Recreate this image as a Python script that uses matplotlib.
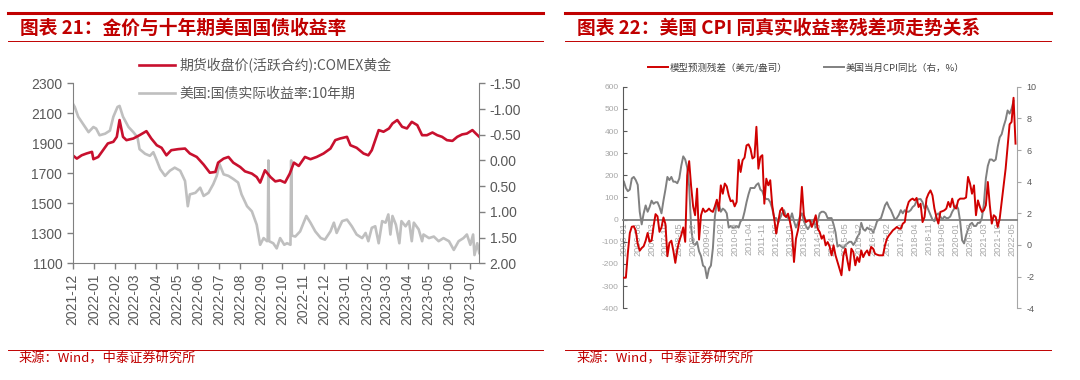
import numpy as np
import pandas as pd
import matplotlib
matplotlib.use('Agg')
import matplotlib.pyplot as plt
import matplotlib.dates as mdates
from matplotlib.ticker import FormatStrFormatter

plt.rcParams['font.family'] = ['Liberation Sans', 'Noto Sans CJK SC', 'DejaVu Sans']
plt.rcParams['axes.unicode_minus'] = False
CJK = ['Noto Sans CJK SC', 'DejaVu Sans']

# ---------- chart 21: gold vs 10y real yield ----------
gold_dates = ['2021-12-01', '2021-12-07', '2021-12-14', '2021-12-21', '2021-12-29', '2021-12-31',
              '2022-01-07', '2022-01-14', '2022-01-21', '2022-01-29', '2022-02-03', '2022-02-07',
              '2022-02-12', '2022-02-17', '2022-02-27', '2022-03-08', '2022-03-18', '2022-03-25',
              '2022-04-02', '2022-04-09', '2022-04-16', '2022-04-23', '2022-05-03', '2022-05-13',
              '2022-05-20', '2022-05-30', '2022-06-09', '2022-06-18', '2022-06-26', '2022-06-30',
              '2022-07-08', '2022-07-15', '2022-07-22', '2022-08-01', '2022-08-08', '2022-08-18',
              '2022-08-25', '2022-08-30', '2022-09-06', '2022-09-14', '2022-09-21', '2022-09-28',
              '2022-10-05', '2022-10-12', '2022-10-18', '2022-10-25', '2022-11-03', '2022-11-11',
              '2022-11-20', '2022-11-30', '2022-12-10', '2022-12-17', '2022-12-24', '2023-01-03',
              '2023-01-08', '2023-01-17', '2023-01-27', '2023-02-03', '2023-02-08', '2023-02-13',
              '2023-02-18', '2023-02-25', '2023-03-05', '2023-03-10', '2023-03-17', '2023-03-24',
              '2023-03-31', '2023-04-07', '2023-04-15', '2023-04-22', '2023-04-29', '2023-05-07',
              '2023-05-14', '2023-05-21', '2023-05-28', '2023-06-05', '2023-06-12', '2023-06-19',
              '2023-06-26', '2023-07-04', '2023-07-09', '2023-07-14']
gold_price = [1820, 1798, 1820, 1832, 1843, 1794, 1809, 1854, 1899, 1910, 1943, 2055,
              1943, 1921, 1932, 1954, 1981, 1932, 1887, 1870, 1820, 1854, 1861, 1865,
              1832, 1809, 1758, 1704, 1709, 1771, 1798, 1809, 1771, 1742, 1713, 1698,
              1675, 1638, 1720, 1675, 1646, 1653, 1638, 1698, 1771, 1749, 1809, 1794,
              1809, 1832, 1865, 1921, 1932, 1943, 1887, 1870, 1832, 1820, 1854, 1921,
              1988, 1977, 1999, 2032, 2055, 2010, 1999, 2043, 2021, 1954, 1954, 1972,
              1954, 1943, 1921, 1916, 1943, 1959, 1965, 1988, 1965, 1943]

ry_dates = ['2021-12-01', '2021-12-04', '2021-12-09', '2021-12-16', '2021-12-24', '2021-12-31',
            '2022-01-04', '2022-01-09', '2022-01-17', '2022-01-24', '2022-01-29', '2022-02-04',
            '2022-02-07', '2022-02-12', '2022-02-20', '2022-02-27', '2022-03-05', '2022-03-08',
            '2022-03-16', '2022-03-23', '2022-03-28', '2022-04-02', '2022-04-07', '2022-04-14',
            '2022-04-21', '2022-04-28', '2022-05-06', '2022-05-13', '2022-05-17', '2022-05-20',
            '2022-05-28', '2022-06-04', '2022-06-09', '2022-06-16', '2022-06-23', '2022-06-28',
            '2022-07-02', '2022-07-08', '2022-07-15', '2022-07-22', '2022-07-29', '2022-08-03',
            '2022-08-11', '2022-08-18', '2022-08-25', '2022-08-30', '2022-09-04', '2022-09-09',
            '2022-09-10', '2022-09-11', '2022-09-12', '2022-09-18', '2022-09-23', '2022-09-28',
            '2022-10-04', '2022-10-08', '2022-10-13', '2022-10-14', '2022-10-15', '2022-10-20',
            '2022-10-27', '2022-11-05', '2022-11-11', '2022-11-18', '2022-11-26', '2022-12-02',
            '2022-12-10', '2022-12-15', '2022-12-19', '2022-12-27', '2023-01-03', '2023-01-10',
            '2023-01-17', '2023-01-25', '2023-01-30', '2023-02-03', '2023-02-08', '2023-02-13',
            '2023-02-18', '2023-02-23', '2023-02-28', '2023-03-04', '2023-03-07', '2023-03-10',
            '2023-03-15', '2023-03-20', '2023-03-23', '2023-03-29', '2023-04-03', '2023-04-07',
            '2023-04-10', '2023-04-17', '2023-04-22', '2023-04-24', '2023-05-02', '2023-05-09',
            '2023-05-16', '2023-05-23', '2023-05-31', '2023-06-07', '2023-06-14', '2023-06-21',
            '2023-06-26', '2023-07-01', '2023-07-05', '2023-07-07', '2023-07-11', '2023-07-14']
real_yield = [-1.11, -1.04, -0.85, -0.71, -0.55, -0.65, -0.62, -0.49, -0.52, -0.58, -0.85, -1.04,
              -1.06, -0.85, -0.65, -0.55, -0.45, -0.22, -0.13, -0.09, -0.16, 0.00, 0.17, 0.30,
              0.20, 0.14, 0.20, 0.40, 0.89, 0.66, 0.63, 0.53, 0.69, 0.63, 0.46, 0.30,
              0.07, 0.27, 0.30, 0.36, 0.43, 0.66, 0.89, 0.99, 1.25, 1.64, 1.51, 1.57,
              1.55, 0.00, 1.57, 1.61, 1.71, 1.51, 1.64, 1.61, 1.64, 0.00, 1.46, 1.48,
              1.38, 1.08, 1.21, 1.38, 1.51, 1.54, 1.38, 1.21, 1.41, 1.18, 1.15, 1.28,
              1.44, 1.51, 1.41, 1.57, 1.31, 1.28, 1.61, 1.18, 1.21, 1.05, 1.44, 1.08,
              1.25, 1.61, 1.18, 1.28, 1.18, 1.57, 1.21, 1.34, 1.57, 1.44, 1.51, 1.48,
              1.57, 1.51, 1.57, 1.74, 1.57, 1.51, 1.44, 1.64, 1.44, 1.84, 1.61, 1.80]

# ---------- chart 22: residual vs US CPI ----------
months = pd.date_range('2006-01-01', '2022-07-01', freq='MS')
residual = [
    -262, -262, -150, -60, -32, -30, -50, -110, -140, -128, -120, -95,     # 2006
    -60, -100, -95, -30, 25, 15, -55, -35, 10, -20, -165, -105,            # 2007
    -95, -140, -195, -135, -95, -70, -35, -100, 200, 264, 150, 60,         # 2008
    20, 140, -90, 20, 50, 35, 40, 50, 40, 35, 60, 90,                      # 2009
    40, 155, 117, 163, 150, 110, 83, 87, 60, 80, 270, 215,                 # 2010
    268, 280, 335, 340, 320, 276, 283, 419, 230, 283, 291, 72,             # 2011
    185, 155, 178, 65, 5, -63, -11, 40, 53, 20, 12, 27,                    # 2012
    -11, -56, -191, -86, -48, 5, 148, 20, -11, -5, -3, -33,                # 2013
    -11, 20, -41, -56, -86, -71, -116, -101, -120, -161, -116, -161,       # 2014
    -191, -221, -251, -160, -131, -184, -229, -131, -146, -206, -169, -191,  # 2015
    -139, -169, -150, -139, -161, -123, -131, -154, -158, -161, -161, -161,  # 2016
    -116, -86, -71, -60, -48, -41, -33, -40, -41, -18, -11, 50,            # 2017
    80, 90, 95, 87, 98, 57, 72, -11, 12, 95, 117, 132,                     # 2018
    110, 50, 12, -18, 35, 38, 42, 50, 80, 57, 95, 57,                      # 2019
    50, 87, 95, 95, 95, 100, 193, 163, 117, 155, 20, 87,                   # 2020
    57, 35, 42, 65, 170, 65, -18, 20, 12, -33, 5, 80,                      # 2021
    155, 230, 330, 430, 441, 550, 343]                                     # 2022
cpi_yoy = [
    4.0, 3.6, 3.4, 3.5, 4.2, 4.3, 4.1, 3.8, 2.1, 1.3, 2.0, 2.5,
    2.1, 2.4, 2.8, 2.6, 2.7, 2.7, 2.4, 2.0, 2.8, 3.5, 4.3, 4.1,
    4.3, 4.0, 4.0, 3.9, 4.2, 5.0, 5.6, 5.4, 4.9, 3.7, 1.1, 0.1,
    0.0, 0.2, -0.4, -0.7, -1.3, -1.4, -2.1, -1.5, -1.3, -0.2, 1.8, 2.7,
    2.6, 2.1, 2.3, 2.2, 2.0, 1.1, 1.2, 1.1, 1.1, 1.2, 1.1, 1.5,
    1.6, 2.1, 2.7, 3.2, 3.6, 3.6, 3.6, 3.8, 3.9, 3.5, 3.4, 3.0,
    2.9, 2.9, 2.7, 2.3, 1.7, 1.7, 1.4, 1.7, 2.0, 2.2, 1.8, 1.7,
    1.6, 2.0, 1.5, 1.1, 1.4, 1.8, 2.0, 1.5, 1.2, 1.0, 1.2, 1.5,
    1.6, 1.1, 1.5, 2.0, 2.1, 2.1, 2.0, 1.7, 1.7, 1.7, 1.3, 0.8,
    -0.1, 0.0, -0.1, -0.2, 0.0, 0.1, 0.2, 0.2, 0.0, 0.2, 0.5, 0.7,
    1.4, 1.0, 0.9, 1.1, 1.0, 1.0, 0.8, 1.1, 1.5, 1.6, 1.7, 2.1,
    2.5, 2.7, 2.4, 2.2, 1.9, 1.6, 1.7, 1.9, 2.2, 2.0, 2.2, 2.1,
    2.1, 2.2, 2.4, 2.5, 2.8, 2.9, 2.9, 2.7, 2.3, 2.5, 2.2, 1.9,
    1.6, 1.5, 1.9, 2.0, 1.8, 1.6, 1.8, 1.7, 1.7, 1.8, 2.1, 2.3,
    2.5, 2.3, 1.5, 0.3, 0.1, 0.6, 1.0, 1.3, 1.4, 1.2, 1.2, 1.4,
    1.4, 1.7, 2.6, 4.2, 5.0, 5.4, 5.4, 5.3, 5.4, 6.2, 6.8, 7.0,
    7.5, 7.9, 8.5, 8.3, 8.6, 9.1]

W, H = 1080, 380
RED = '#C00000'
fig = plt.figure(figsize=(W / 100, H / 100), dpi=100)


def px_axes(x0, y0, x1, y1):
    return fig.add_axes([x0 / W, 1 - y1 / H, (x1 - x0) / W, (y1 - y0) / H])


# page frame: red rules, titles, source notes
deco = fig.add_axes([0, 0, 1, 1], zorder=-5)
deco.set_xlim(0, W)
deco.set_ylim(H, 0)
deco.axis('off')
for x0, x1 in [(8, 543), (565, 1051)]:
    deco.plot([x0, x1], [13, 13], color=RED, lw=2.2)
    deco.plot([x0, x1], [41, 41], color=RED, lw=0.7)
    deco.plot([x0, x1], [350, 350], color=RED, lw=0.7)
deco.text(20, 28, '图表 21：金价与十年期美国国债收益率', family=CJK, fontsize=13.5,
          color=RED, va='center', ha='left', fontweight='bold')
deco.text(577, 28, '图表 22：美国 CPI 同真实收益率残差项走势关系', family=CJK, fontsize=13.5,
          color=RED, va='center', ha='left', fontweight='bold')
deco.text(19, 359, '来源：Wind，中泰证券研究所', family=CJK, fontsize=9.5, color=RED, va='center')
deco.text(577, 359, '来源：Wind，中泰证券研究所', family=CJK, fontsize=9.5, color=RED, va='center')

# ---- left chart ----
GRID = '#808080'
TXT = '#595959'
ax1 = px_axes(72.7, 83.3, 479.3, 263.3)
ax1b = ax1.twinx()
l1, = ax1.plot(pd.to_datetime(gold_dates), gold_price, color='#C8102E', lw=1.9)
l2, = ax1b.plot(pd.to_datetime(ry_dates), real_yield, color='#BFBFBF', lw=1.9)
ax1.set_zorder(ax1b.get_zorder() + 1)
ax1.patch.set_visible(False)

ax1.set_xlim(pd.Timestamp('2021-12-01'), pd.Timestamp('2023-07-14'))
ax1.set_ylim(1100, 2300)
ax1.set_yticks(range(1100, 2301, 200))
ax1b.set_ylim(2.0, -1.5)
ax1b.set_yticks(np.arange(-1.5, 2.01, 0.5))
ax1b.yaxis.set_major_formatter(FormatStrFormatter('%.2f'))
ax1.xaxis.set_major_locator(mdates.MonthLocator())
ax1.xaxis.set_major_formatter(mdates.DateFormatter('%Y-%m'))
ax1.tick_params(axis='x', labelrotation=90)
for a in (ax1, ax1b):
    a.tick_params(direction='out', length=4, width=1, color=GRID, labelsize=10, labelcolor=TXT)
    for s in a.spines.values():
        s.set_color(GRID)
    a.spines['top'].set_visible(False)
ax1.spines['right'].set_visible(False)
ax1b.spines['left'].set_visible(False)
ax1b.spines['bottom'].set_visible(False)

fig.legend([l1, l2], ['期货收盘价(活跃合约):COMEX黄金', '美国:国债实际收益率:10年期'],
           loc='upper left', bbox_to_anchor=(139 / W, 1 - 58 / H), frameon=False,
           prop={'family': CJK, 'size': 10}, labelcolor=TXT, handlelength=2.6,
           handletextpad=0.3, labelspacing=1.0, borderpad=0, borderaxespad=0)

# ---- right chart ----
LIGHT = '#A6A6A6'
ax2 = px_axes(623.3, 86.7, 1017.3, 308.3)
ax2b = ax2.twinx()
idx = np.arange(len(months))
r1, = ax2.plot(idx[:len(residual)], residual, color='#D00000', lw=1.4, zorder=3)
r2, = ax2b.plot(idx[:len(cpi_yoy)], cpi_yoy, color='#808080', lw=1.4)
ax2.set_zorder(ax2b.get_zorder() + 1)
ax2.patch.set_visible(False)

ax2.set_xlim(-0.3, 198.9)
ax2.set_ylim(-400, 600)
ax2.set_yticks(range(-400, 601, 100))
ax2b.set_ylim(-4, 10)
ax2b.set_yticks(range(-4, 11, 2))
ax2.set_xticks(idx[::7])
ax2.set_xticklabels(months[::7].strftime('%Y-%m'))
ax2.spines['bottom'].set_position(('data', 0))
ax2.spines['bottom'].set_color('#808080')
ax2.spines['bottom'].set_linewidth(1.3)
ax2.tick_params(axis='x', length=0, pad=2, labelsize=6.6, labelcolor=LIGHT, labelrotation=90)
ax2.tick_params(axis='y', direction='in', length=3, color='#595959', labelsize=6, labelcolor=LIGHT)
ax2b.tick_params(axis='y', direction='out', length=3, color=LIGHT, labelsize=6.5, labelcolor=TXT)
ax2.spines['left'].set_color('#595959')
ax2b.spines['right'].set_color(LIGHT)
for a in (ax2, ax2b):
    a.spines['top'].set_visible(False)
ax2.spines['right'].set_visible(False)
ax2b.spines['left'].set_visible(False)
ax2b.spines['bottom'].set_visible(False)

fig.legend([r1, r2], ['模型预测残差（美元/盎司）', '美国当月CPI同比（右，%）'], ncol=2,
           loc='upper left', bbox_to_anchor=(648 / W, 1 - 63 / H), frameon=False,
           prop={'family': CJK, 'size': 6.8}, labelcolor='#404040', handlelength=2.1,
           handletextpad=0.2, columnspacing=3.9, borderpad=0, borderaxespad=0)

fig.savefig('out.png', dpi=100)
